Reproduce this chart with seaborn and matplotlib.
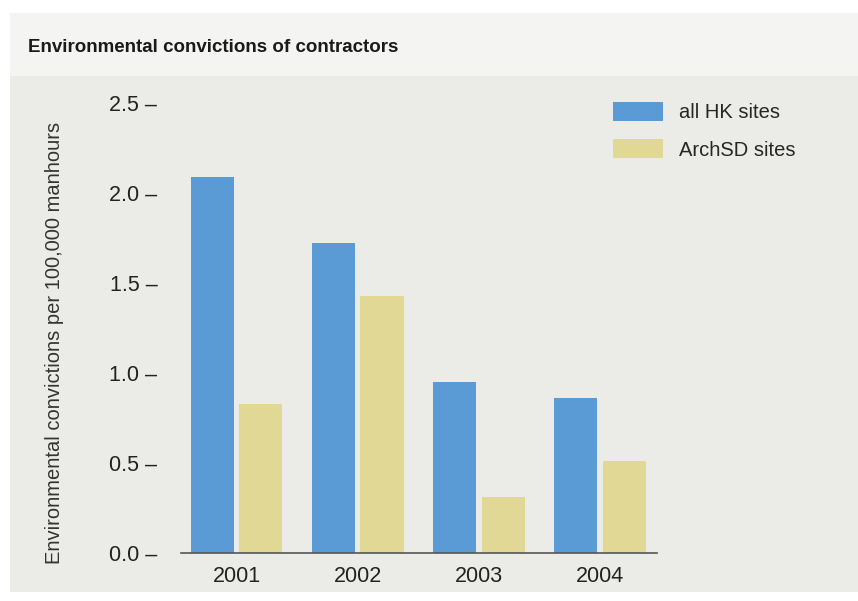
import pandas as pd
import matplotlib.pyplot as plt
import seaborn as sns
from matplotlib.patches import Rectangle

# Dữ liệu
years = ['2001', '2002', '2003', '2004']
all_hk = [2.09, 1.72, 0.95, 0.86]
archsd = [0.83, 1.43, 0.31, 0.51]
series_names = ['all HK sites', 'ArchSD sites']
y_ticks = [0.0, 0.5, 1.0, 1.5, 2.0, 2.5]

df = pd.DataFrame({
    'year': years * 2,
    'value': all_hk + archsd,
    'site': [series_names[0]] * 4 + [series_names[1]] * 4,
})

sns.set_style('white')
plt.rcParams['font.family'] = ['Liberation Sans', 'DejaVu Sans']

W, H = 858, 601
fig = plt.figure(figsize=(W / 100, H / 100), dpi=100)
fig.patch.set_facecolor('white')

# Nền tiêu đề và nền khung biểu đồ
fig.patches.append(Rectangle((10 / W, 1 - 76 / H), 1, 63 / H, transform=fig.transFigure,
                             facecolor='#f4f4f2', edgecolor='none', zorder=-5))
fig.patches.append(Rectangle((10 / W, 1 - 592 / H), 1, 516 / H, transform=fig.transFigure,
                             facecolor='#ebebe8', edgecolor='none', zorder=-5))
fig.text(28 / W, 1 - 47 / H, 'Environmental convictions of contractors',
         fontsize=13.5, fontweight='bold', color='#1a1a1a', va='center', ha='left')

ax = fig.add_axes([181 / W, 1 - 553 / H, (657 - 181) / W, (553 - 103) / H])
ax.set_facecolor('none')
ax.set_zorder(2)

sns.barplot(data=df, x='year', y='value', hue='site', palette=['#5b9bd5', '#e0d894'],
            width=0.8, gap=0.11, ax=ax, legend=True, saturation=1, linewidth=0)

ax.set_xlim(-0.46, 3.47)
ax.set_ylim(0, 2.5)
ax.set_yticks(y_ticks)
ax.set_yticklabels([f'{t:.1f} \u2013' for t in y_ticks], fontsize=15.5, color='#222222')
ax.tick_params(axis='y', length=0, pad=17)
ax.tick_params(axis='x', length=0, pad=9, labelsize=15.5, labelcolor='#222222')
ax.set_xlabel('')
ax.set_ylabel('')
for s in ['left', 'top', 'right']:
    ax.spines[s].set_visible(False)
ax.spines['bottom'].set_color('#555555')
ax.spines['bottom'].set_linewidth(1.2)

fig.text(55 / W, 1 - 343 / H, 'Environmental convictions per 100,000 manhours',
         rotation=90, fontsize=14.5, color='#333333', va='center', ha='center')

ax.legend(loc='upper left', bbox_to_anchor=(613 / W, 1 - 102 / H),
          bbox_transform=fig.transFigure, frameon=False, fontsize=14.5,
          handlelength=2.5, handleheight=1.05, labelspacing=0.85, handletextpad=0.8,
          borderpad=0, borderaxespad=0)

plt.savefig('out.png', dpi=100)
